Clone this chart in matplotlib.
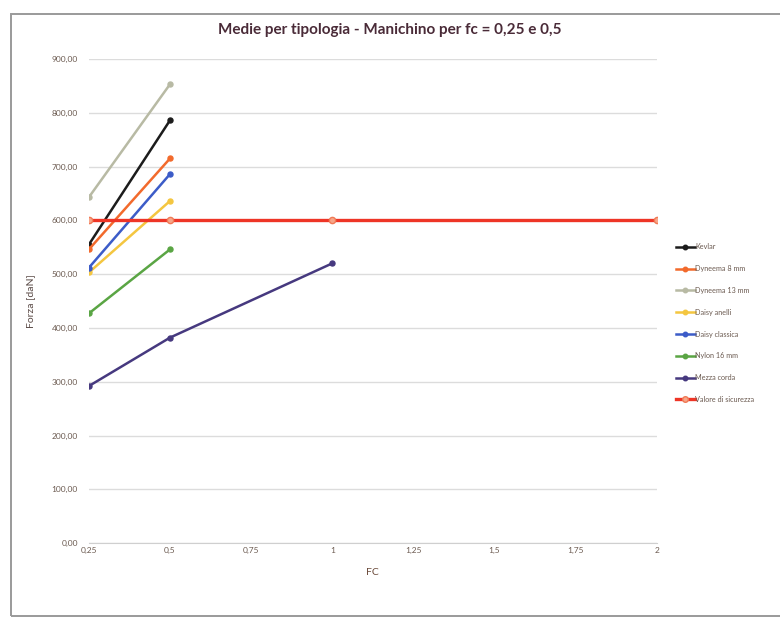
import matplotlib
matplotlib.use("Agg")
import matplotlib.pyplot as plt
from matplotlib.patches import Rectangle
from matplotlib.ticker import FixedLocator

plt.rcParams['font.family'] = ['Lato', 'DejaVu Sans']

# Mean peak force per rope type at each fall factor
fc_short = [0.25, 0.5]
kevlar = [555, 786]
dyneema_8 = [546, 715]
dyneema_13 = [643, 853]
daisy_anelli = [503, 636]
daisy_classica = [512, 686]
nylon_16 = [427, 546]

fc_mezza = [0.25, 0.5, 1]
mezza_corda = [292, 382, 520]

fc_soglia = [0.25, 0.5, 1, 2]
valore_sicurezza = [600, 600, 600, 600]

series = [
    ("Kevlar", fc_short, kevlar, "#1c1c1c"),
    ("Dyneema 8 mm", fc_short, dyneema_8, "#f26a2c"),
    ("Dyneema 13 mm", fc_short, dyneema_13, "#b8baa4"),
    ("Daisy anelli", fc_short, daisy_anelli, "#f4c640"),
    ("Daisy classica", fc_short, daisy_classica, "#3c5cc8"),
    ("Nylon 16 mm", fc_short, nylon_16, "#5aa544"),
    ("Mezza corda", fc_mezza, mezza_corda, "#46397f"),
]

x_ticks = [0.25, 0.5, 0.75, 1, 1.25, 1.5, 1.75, 2]
x_labels = ["0,25", "0,5", "0,75", "1", "1,25", "1,5", "1,75", "2"]
y_ticks = [0, 100, 200, 300, 400, 500, 600, 700, 800, 900]
y_labels = [f"{v},00" for v in y_ticks]

fig = plt.figure(figsize=(7.8, 6.2), dpi=100)
fig.patch.set_facecolor("white")

# chart-area frame
fig.patches.append(Rectangle((11 / 780, 4 / 620), 1.2, 602 / 620,
                             transform=fig.transFigure, fill=False,
                             edgecolor="#9a9a9a", linewidth=1.4))

ax = fig.add_axes([0.114, 0.124, 0.728, 0.781])

for name, xs, ys, col in series:
    ax.plot(xs, ys, color=col, linewidth=1.8, marker="o", markersize=3.6,
            label=name, zorder=3)

ax.plot(fc_soglia, valore_sicurezza, color="#ee3526", linewidth=2.4,
        marker="o", markersize=4.5, markerfacecolor="#f7a68a",
        markeredgecolor="#f07a55", label="Valore di sicurezza", zorder=4)

ax.set_xlim(0.25, 2)
ax.set_ylim(0, 900)
ax.xaxis.set_major_locator(FixedLocator(x_ticks))
ax.set_xticklabels(x_labels)
ax.yaxis.set_major_locator(FixedLocator(y_ticks))
ax.set_yticklabels(y_labels)
ax.tick_params(axis="both", length=0, labelsize=6, labelcolor="#6b5a50")
ax.tick_params(axis="x", pad=3)
ax.tick_params(axis="y", pad=8)
ax.grid(axis="y", color="#dcdcdc", linewidth=1.0)
ax.set_axisbelow(True)
for side in ("top", "right", "left"):
    ax.spines[side].set_visible(False)
ax.spines["bottom"].set_color("#cfcfcf")
ax.set_facecolor("none")

ax.set_ylabel("Forza [daN]", fontsize=7.5, color="#5a4a46", labelpad=12)
ax.set_xlabel("FC", fontsize=7.5, color="#6b4a3a", labelpad=10)

fig.text(0.5, 0.951, "Medie per tipologia - Manichino per fc = 0,25 e 0,5",
         ha="center", va="center", fontsize=11, fontweight="bold",
         color="#4a2b38")

leg = fig.legend(loc="upper left", bbox_to_anchor=(0.858, 0.618),
                 frameon=False, fontsize=5.2, labelspacing=2.05,
                 handlelength=2.6, handletextpad=0.1, markerscale=0.9,
                 labelcolor="#6b5a50")

fig.savefig("out.png", dpi=100, facecolor="white")
